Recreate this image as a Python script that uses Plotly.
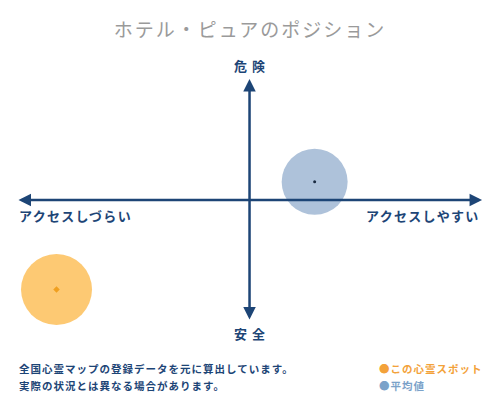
import plotly.graph_objects as go

# ポジションデータ (横: アクセス, 縦: 危険度)
spot_names = ["この心霊スポット", "平均値"]
spot_x = [-0.83, 0.28]
spot_y = [-0.74, 0.15]

title_text = "ホテル・ピュアのポジション"
label_top = "危 険"
label_bottom = "安 全"
label_left = "アクセスしづらい"
label_right = "アクセスしやすい"
notes = ["全国心霊マップの登録データを元に算出しています。",
         "実際の状況とは異なる場合があります。"]

FONT = "Noto Sans CJK JP"
NAVY = "#1d4576"
ORANGE = "#f3a23a"
BLUE = "#7ba2c9"


def spaced(s, px, bold=True, color=None):
    style = f"letter-spacing:{px}px"
    if color:
        style += f";color:{color}"
    inner = f"<b>{s}</b>" if bold else s
    return f"<span style='{style}'>{inner}</span>"


fig = go.Figure()

# 平均値 (青)
fig.add_trace(go.Scatter(
    x=[spot_x[1]], y=[spot_y[1]], mode="markers",
    marker=dict(size=66, color="#aec2da", line=dict(width=0)),
    hoverinfo="skip", showlegend=False))
fig.add_trace(go.Scatter(
    x=[spot_x[1]], y=[spot_y[1]], mode="markers",
    marker=dict(size=3, color="#1a2a40"),
    name=spot_names[1], showlegend=False))

# この心霊スポット (オレンジ)
fig.add_trace(go.Scatter(
    x=[spot_x[0]], y=[spot_y[0]], mode="markers",
    marker=dict(size=71, color="#fdc973", line=dict(width=0)),
    hoverinfo="skip", showlegend=False))
fig.add_trace(go.Scatter(
    x=[spot_x[0]], y=[spot_y[0]], mode="markers",
    marker=dict(size=5, color="#f0a020", symbol="diamond"),
    name=spot_names[0], showlegend=False))

# 十字の矢印
arrow = dict(xref="x", yref="y", axref="x", ayref="y", text="",
             showarrow=True, arrowhead=2, startarrowhead=2,
             arrowsize=1.0, startarrowsize=1.0, arrowwidth=2.5, arrowcolor=NAVY,
             arrowside="end+start")
fig.add_annotation(x=1, y=0, ax=-1, ay=0, **arrow)
fig.add_annotation(x=0, y=1, ax=0, ay=-1, **arrow)

lab = dict(showarrow=False, font=dict(family=FONT, size=13, color=NAVY))
fig.add_annotation(x=0, y=1.0, yshift=14, text=spaced(label_top, 1), **lab)
fig.add_annotation(x=0, y=-1.0, yshift=-13, text=spaced(label_bottom, 1), **lab)
fig.add_annotation(x=-1, y=0, yshift=-15, xanchor="left",
                   text=spaced(label_left, 1.3), **lab)
fig.add_annotation(x=1, y=0, yshift=-15, xanchor="right",
                   text=spaced(label_right, 1.3), **lab)

# 注記と凡例
foot = dict(xref="paper", yref="paper", xanchor="left", yanchor="middle",
            align="left", showarrow=False)
legend_colors = [ORANGE, BLUE]
for i, (note, name) in enumerate(zip(notes, spot_names)):
    yy = 0.08 - i * 0.0425
    fig.add_annotation(x=0.034, y=yy, text=spaced(note, 1),
                       font=dict(family=FONT, size=10.5, color=NAVY), **foot)
    fig.add_annotation(x=0.754, y=yy, text=spaced("●" + name, 1, color=legend_colors[i]),
                       font=dict(family=FONT, size=10.5), **foot)

fig.update_layout(
    width=500, height=400,
    margin=dict(l=0, r=0, t=0, b=0),
    paper_bgcolor="white", plot_bgcolor="white",
    title=dict(text=spaced(title_text, 2, bold=False), x=0.5, y=0.925,
               xanchor="center", yanchor="middle",
               font=dict(family=FONT, size=19, color="#9a9a9a")),
    xaxis=dict(range=[-1.073, 1.077], visible=False, fixedrange=True),
    yaxis=dict(range=[-1.653, 1.653], visible=False, fixedrange=True),
    showlegend=False,
)

fig.write_html("out.html", config={"displayModeBar": False},
               post_script="document.body.style.margin='0';")
